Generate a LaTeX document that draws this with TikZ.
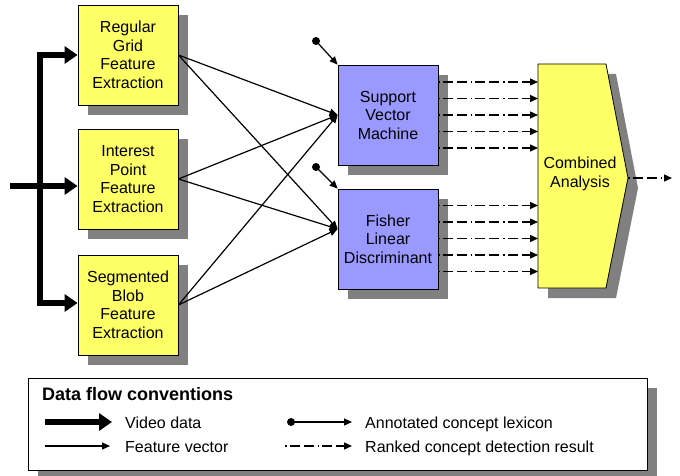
\documentclass[tikz,border=0pt]{standalone}
\usepackage{fontspec}
\setmainfont{Liberation Sans}
\usetikzlibrary{arrows.meta,shadows,calc}
\definecolor{boxyellow}{HTML}{FFFF66}
\definecolor{boxblue}{HTML}{9999FF}
\definecolor{shadowgray}{HTML}{808080}
\begin{document}
\begin{tikzpicture}[x=1pt,y=-1pt,
  txt/.style={font=\fontsize{16}{18.5}\selectfont},
  shade10/.style={drop shadow={shadow xshift=10pt, shadow yshift=-10pt, fill=shadowgray, opacity=1}},
  box/.style={draw=black, line width=0.8pt, minimum width=100pt, minimum height=100pt,
    inner sep=0pt, align=center, txt, shade10},
  feat/.style={box, fill=boxyellow},
  clf/.style={box, fill=boxblue},
  video/.style={line width=6pt, -{Triangle[length=13pt,width=17pt]}},
  fvec/.style={line width=1.2pt, -{Triangle[length=8pt,width=7pt]}},
  lex/.style={line width=1.2pt, -{Triangle[length=8pt,width=7pt]}},
  rank/.style={line width=1.4pt, dash pattern=on 1.5pt off 3pt on 10pt off 4pt on 10pt off 4pt,
    -{Triangle[length=8pt,width=7pt]}},
  legtxt/.style={txt, anchor=base west, inner sep=0pt},
]
\useasboundingbox (0,0) rectangle (680,476);

% feature extraction stages
\node[feat] (rg) at (128,55)  {Regular\\Grid\\Feature\\Extraction};
\node[feat] (ip) at (128,179) {Interest\\Point\\Feature\\Extraction};
\node[feat] (sb) at (128,305) {Segmented\\Blob\\Feature\\Extraction};

% classifiers
\node[clf] (svm) at (388,115) {Support\\Vector\\Machine};
\node[clf] (fld) at (388,239) {Fisher\\Linear\\Discriminant};

% combined analysis (pentagon with shadow)
\fill[shadowgray] (548,74) -- (616,74) -- (638,188) -- (616,298) -- (548,298) -- cycle;
\draw[fill=boxyellow, line width=0.8pt] (538,64) coordinate (canw) -- (606,64) -- (628,178) coordinate (catip)
  -- (606,288) -- (538,288) -- cycle;
\node[txt, align=center] (ca) at (580,174) {Combined\\Analysis};
\coordinate (caw) at (538,176);
\coordinate (out) at (672,178);

% video data distribution
\coordinate (vin) at (10,186);
\coordinate (bustop) at (40,52);
\coordinate (busbot) at (40,306);
\draw[line width=6pt] (bustop) -- (busbot);
\draw[video] (37,55) -- (rg.west);
\draw[video] (vin) -- (ip.west |- vin);
\draw[video] (37,303) -- (sb.west |- 0,303);

% feature vectors
\coordinate (svmin) at (svm.west);
\coordinate (fldin) at ([yshift=10pt]fld.west);
\foreach \s in {rg,ip,sb}{
  \draw[fvec] (\s.east) -- (svmin);
  \draw[fvec] (\s.east) -- (fldin);
}

% annotated concept lexicon
\coordinate (lexa) at (316,41);
\coordinate (lexb) at (316,167);
\fill (lexa) circle (4pt);
\fill (lexb) circle (4pt);
\draw[lex] (lexa) -- (svm.north west);
\draw[lex] (lexb) -- (fld.north west);

% ranked concept detection results
\foreach \y in {82,98.5,115,131.5,148}{
  \draw[rank] (svm.east |- 0,\y) -- (caw |- 0,\y);
}
\foreach \y in {205.5,222,238.5,255,271.5}{
  \draw[rank] (fld.east |- 0,\y) -- (caw |- 0,\y);
}
\draw[rank] (catip) -- (out);

% legend
\node[draw=black, fill=white, line width=0.8pt, minimum width=619pt, minimum height=92pt,
  inner sep=0pt, shade10] (legend) at (337.5,424) {};
\node[legtxt, font=\fontsize{18}{21}\selectfont\bfseries] (legtitle) at (42,400) {Data flow conventions};
\coordinate (la1) at (45,422);  \coordinate (la2) at (112,422);
\coordinate (lb1) at (45,446);  \coordinate (lb2) at (110,446);
\coordinate (lc1) at (291,422); \coordinate (lc2) at (352,422);
\coordinate (ld1) at (285,446); \coordinate (ld2) at (352,446);
\draw[video] (la1) -- (la2);
\draw[fvec] (lb1) -- (lb2);
\fill (lc1) circle (4pt);
\draw[lex] (lc1) -- (lc2);
\draw[rank] (ld1) -- (ld2);
\node[legtxt] (lvideo) at (125,428) {Video data};
\node[legtxt] (lfeat) at (125,452) {Feature vector};
\node[legtxt] (llex) at (365,428) {Annotated concept lexicon};
\node[legtxt] (lrank) at (365,452) {Ranked concept detection result};
\end{tikzpicture}
\end{document}
